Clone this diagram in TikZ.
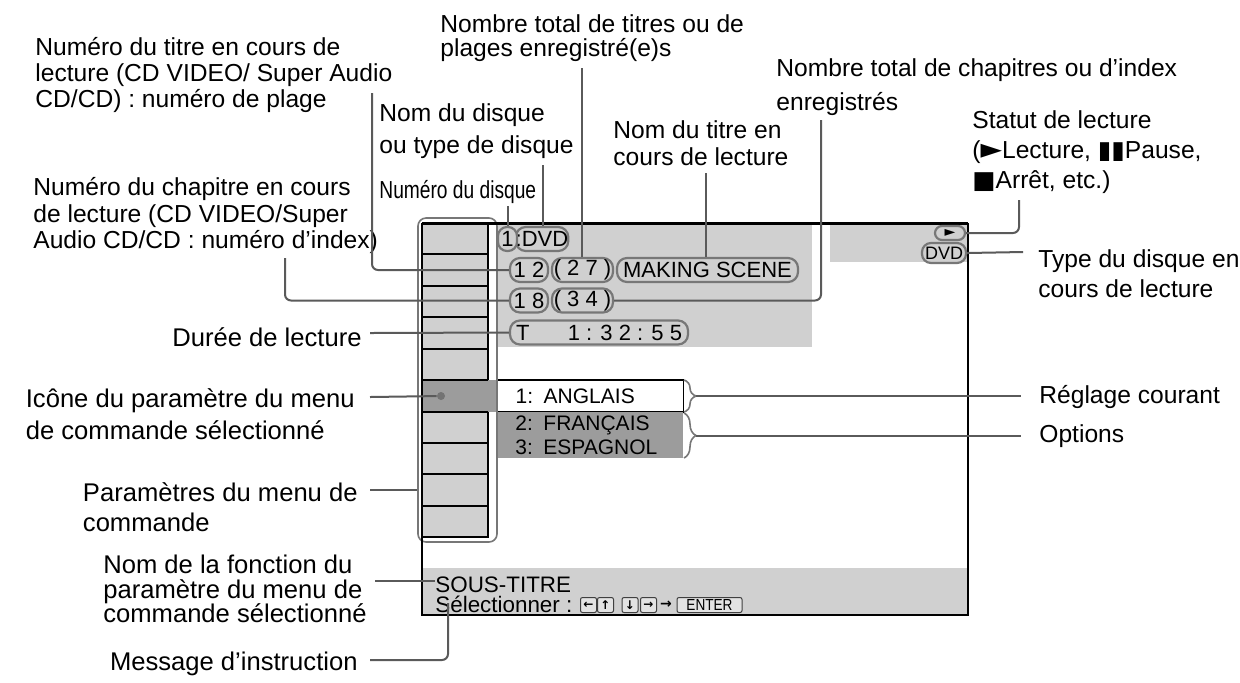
\documentclass[tikz,border=0pt]{standalone}
\usepackage{fontspec}
\usepackage{graphicx}
\setmainfont{Liberation Sans}
\newfontfamily\sym{DejaVu Sans}
\usetikzlibrary{decorations.pathreplacing}
\definecolor{lg}{HTML}{D0D0D0}
\definecolor{dg}{HTML}{9C9C9C}
\definecolor{ln}{HTML}{5A5A5A}
\definecolor{pl}{HTML}{777777}
\newcommand\lblf[1]{\fontsize{12.3}{#1}\selectfont}
\newcommand\lblg[1]{\fontsize{12.8}{#1}\selectfont}
\newcommand\scrf{\fontsize{11}{11}\selectfont}
\tikzset{
 conn/.style={draw=ln, line width=1pt, rounded corners=3pt},
 lbl/.style={inner sep=0pt, align=left, anchor=north west},
 lblr/.style={inner sep=0pt, align=left, anchor=north east},
 pill/.style={draw=pl, line width=1.1pt, rounded corners=5pt, fill=lg, inner sep=0pt, minimum height=12pt, font=\scrf},
 keybox/.style={draw=black!75, line width=0.5pt, fill=lg!60, rounded corners=1pt, inner sep=0pt, minimum width=8pt, minimum height=7.5pt, font=\sym\fontsize{6}{6}\selectfont\bfseries},
 bracebrace/.style={draw=pl, line width=0.8pt, decorate, decoration={brace, amplitude=6pt}},
}
\begin{document}
\begin{tikzpicture}[x=0.5pt,y=-0.5pt]
\useasboundingbox (0,0) rectangle (1240,682);
\fill[white] (0,0) rectangle (1240,682);

% ---------- screen backgrounds
\fill[lg] (498,225) rectangle (812,347);
\fill[lg] (830,225) rectangle (968,262);
\fill[lg] (422,568) rectangle (968,615);

% ---------- menu column
\fill[lg] (422,225) rectangle (488,537);
\fill[dg] (422,380) rectangle (497,412);
\foreach \yy in {254,286,317,349,380,412,443,474,506}
  \draw[black, line width=0.7pt] (422,\yy) -- (488,\yy);
\draw[black, line width=0.8pt] (488,225) -- (488,380) (488,412) -- (488,537) -- (422,537);
\node[circle, fill=black!55, minimum size=4pt, inner sep=0pt] (icon) at (441,396) {};

% ---------- option boxes
\node[draw=black, line width=0.7pt, fill=white, anchor=west, text width=75pt, inner xsep=9pt, inner ysep=0pt, minimum height=16pt, align=left, font=\fontsize{10.5}{12}\selectfont] (cur) at (497,396) {1: ANGLAIS};
\node[fill=dg, anchor=west, text width=75pt, inner xsep=9pt, inner ysep=0pt, minimum height=23pt, align=left, font=\fontsize{10.5}{12}\selectfont] (opts) at (497,435) {2: FRANÇAIS\\3: ESPAGNOL};

% ---------- rounded outline of the column
\node[draw=pl, line width=0.8pt, rounded corners=4pt, minimum width=39.5pt, minimum height=162pt, inner sep=0pt] (outl) at (457.5,380) {};

% ---------- screen border
\draw[black, line width=0.9pt] (968,223) -- (968,615) -- (422,615) -- (422,223);
\draw[black, line width=1.5pt] (422,223.5) -- (968,223.5);

% ---------- bottom bar texts
\node[anchor=base west, inner sep=0pt, font=\fontsize{11.2}{11}\selectfont] (sous) at (435,592) {SOUS-TITRE};
\node[anchor=base west, inner sep=0pt, font=\fontsize{11.2}{11}\selectfont] (sel) at (435,612) {Sélectionner :};
\node[keybox] (k1) at (588.5,605) {←};
\node[keybox] (k2) at (605.5,605) {↑};
\node[keybox] (k3) at (630,605) {↓};
\node[keybox] (k4) at (648.5,605) {→};
\node[inner sep=0pt, font=\sym\fontsize{7}{7}\selectfont\bfseries] (karr) at (666,605) {→};
\node[keybox, minimum width=32.5pt, font=\fontsize{8}{8}\selectfont] (kent) at (709.5,605) {\scalebox{0.85}[1]{ENTER}};

% ---------- braces
\draw[bracebrace] (684,380) -- (684,412);
\draw[bracebrace] (684,413) -- (684,458);
\coordinate (b1) at (696,396);
\coordinate (b2) at (696,435.5);

% ---------- labels
\node[lbl, font={\lblf{13pt}}] (lnt) at (35,37) {Numéro du titre en cours de\\lecture (CD VIDEO/ Super Audio\\CD/CD) : numéro de plage};
\node[lbl, font={\lblf{12pt}}] (lntt) at (440,14) {Nombre total de titres ou de\\plages enregistré(e)s};
\node[lbl, font={\lblf{16pt}}] (lnd) at (379,103) {Nom du disque\\ou type de disque};
\node[lbl, font={\lblf{13.5pt}}] (lnti) at (613,120) {Nom du titre en\\cours de lecture};
\node[lbl, font={\lblf{17pt}}] (lntc) at (776,58) {Nombre total de chapitres ou d’index\\enregistrés};
\node[lbl, font={\lblf{15pt}}] (lst) at (972,110) {Statut de lecture\\({\sym\fontsize{14}{15}\selectfont ►}Lecture, {\sym ▮▮}Pause,\\{\sym ■}Arrêt, etc.)};
\node[anchor=base west, inner sep=0pt, font={\lblf{13pt}}] (lndq) at (379,198) {\scalebox{0.78}[1]{Numéro du disque}};
\node[lbl, font={\lblf{13.25pt}}] (lnc) at (33,177) {Numéro du chapitre en cours\\de lecture (CD VIDEO/Super\\Audio CD/CD : numéro d’index)};
\node[lbl, font={\lblf{15pt}}] (ltype) at (1038,249) {Type du disque en\\cours de lecture};
\node[anchor=base east, inner sep=0pt, font={\lblg{13pt}}] (ldur) at (362,346) {Durée de lecture};
\node[lblr, font={\lblg{16pt}}] (licone) at (355,388) {Icône du paramètre du menu\\de commande sélectionné};
\node[lblr, font={\lblg{15pt}}] (lparam) at (358,482) {Paramètres du menu de\\commande};
\node[lblr, font={\lblg{12.25pt}}] (lfonc) at (367,555) {Nom de la fonction du\\paramètre du menu de\\commande sélectionné};
\node[anchor=base east, inner sep=0pt, font={\lblg{13pt}}] (lmsg) at (358,670) {Message d’instruction};
\node[anchor=west, inner xsep=9pt, inner ysep=0pt, font={\lblf{13pt}}] (lreg) at (1021,397) {Réglage courant};
\node[anchor=west, inner xsep=9pt, inner ysep=0pt, font={\lblf{13pt}}] (lopt) at (1021,436) {Options};

% ---------- connector start points
\coordinate (ctitre) at (372,93);
\coordinate (cchap) at (285,258);
\coordinate (cdisq) at (508,206);
\coordinate (cnomd) at (543,165);
\coordinate (cntt) at (582,68);
\coordinate (cnti) at (706,173);
\coordinate (cntc) at (821,120);
\coordinate (cst) at (1019,200);
\coordinate (ctype) at (1023,252);
\coordinate (cdur) at (370,333);
\coordinate (cicone) at (370,397);
\coordinate (cparam) at (370,490);
\coordinate (cfonc) at (375,581);
\coordinate (cmsg) at (370,660);
\coordinate (csel) at (448,603);

% ---------- pills
\node[pill, minimum width=26pt] (pdvd) at (542,239) {:DVD};
\node[pill, minimum width=9.5pt, rounded corners=4.5pt] (p1) at (507.5,239) {1};
\node[pill, minimum width=19pt] (p12) at (529,270) {1 2};
\node[pill, minimum width=30.5pt] (p27) at (582.5,270) {( 2 7 )};
\node[pill, minimum width=90.5pt] (pmk) at (707.5,270) {MAKING SCENE};
\node[pill, minimum width=19pt] (p18) at (529,300.5) {1 8};
\node[pill, minimum width=30.5pt] (p34) at (582.5,300.5) {( 3 4 )};
\node[pill, minimum width=89pt] (pT) at (599,332.5) {\makebox[83pt][l]{T\hfill 1 : 3 2 : 5 5}};
\node[pill, minimum width=15pt, minimum height=7pt, rounded corners=3.5pt, font=\sym\fontsize{7}{7}\selectfont] (pplay) at (950,233) {►};
\node[pill, minimum width=22pt, minimum height=10pt, rounded corners=4.5pt, font=\fontsize{9}{9}\selectfont] (pdvd2) at (944,253) {DVD};

% ---------- connectors
\draw[conn] (ctitre) |- (p12.west);
\draw[conn] (cchap) |- (p18.west);
\draw[conn] (cdisq) -- (cdisq |- p1.north);
\draw[conn] (cnomd) -- (cnomd |- pdvd.north);
\draw[conn] (cntt) -- (cntt |- p27.north);
\draw[conn] (cnti) -- (cnti |- pmk.north);
\draw[conn] (cntc) |- (p34.east);
\draw[conn] (cst) |- (pplay.east);
\draw[conn] (pdvd2.east) -- (ctype);
\draw[conn] (cdur) -- (pT.west);
\draw[conn] (cicone) -- (icon);
\draw[conn] (cparam) -- (cparam -| outl.west);
\draw[conn] (cfonc) -- (cfonc -| sous.west);
\draw[conn] (cmsg) -| (csel);
\draw[conn] (b1) -- (b1 -| lreg.west);
\draw[conn] (b2) -- (b2 -| lopt.west);
\end{tikzpicture}
\end{document}
